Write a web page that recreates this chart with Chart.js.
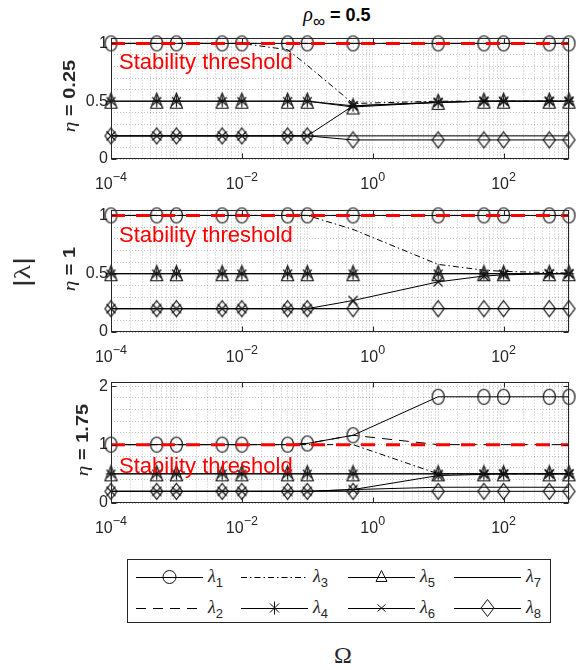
<!DOCTYPE html>
<html><head><meta charset="utf-8">
<script src="https://cdn.jsdelivr.net/npm/chart.js@4.4.1/dist/chart.umd.min.js"></script>
<style>
body{margin:0;background:#fff;width:576px;height:670px;position:relative;overflow:hidden;font-family:"Liberation Sans",Arial,sans-serif;color:#262626;}
canvas.p{position:absolute;left:0;}
.lab{position:absolute;white-space:nowrap;line-height:1;}
#legend{position:absolute;left:127px;top:559px;width:424px;height:64px;border:1px solid #262626;box-sizing:border-box;}
.le{position:absolute;height:20px;}
.le svg{position:absolute;left:0;top:0;}
.le .t{position:absolute;left:72px;top:-1px;font-size:18px;font-family:"Liberation Serif",serif;font-style:italic;color:#262626;}
.le .t sub{font-size:13px;font-style:normal;font-family:"Liberation Sans",Arial,sans-serif;vertical-align:-5px;}
</style></head><body>

<div class="lab" id="title" style="left:337px;top:4px;transform:translateX(-50%);font-size:18px;font-weight:bold;color:#000;">
<span style="font-family:'Liberation Serif',serif;font-style:italic;font-weight:normal;font-size:20px;">ρ</span><sub style="font-size:17px;font-weight:normal;vertical-align:-6px;">∞</sub> = 0.5</div>

<canvas id="c1" class="p" width="576" height="166" style="top:25px"></canvas>
<canvas id="c2" class="p" width="576" height="167" style="top:197px"></canvas>
<canvas id="c3" class="p" width="576" height="166" style="top:369px"></canvas>

<div class="lab" style="left:69px;top:96px;transform:translate(-50%,-50%) rotate(-90deg) scaleX(1.25);font-size:16px;font-weight:bold;"><span style="font-style:italic;font-weight:normal;font-family:'Liberation Serif',serif;font-size:17px;">η</span> = 0.25</div>
<div class="lab" style="left:69px;top:269px;transform:translate(-50%,-50%) rotate(-90deg) scaleX(1.25);font-size:16px;font-weight:bold;"><span style="font-style:italic;font-weight:normal;font-family:'Liberation Serif',serif;font-size:17px;">η</span> = 1</div>
<div class="lab" style="left:82px;top:440px;transform:translate(-50%,-50%) rotate(-90deg) scaleX(1.25);font-size:16px;font-weight:bold;"><span style="font-style:italic;font-weight:normal;font-family:'Liberation Serif',serif;font-size:17px;">η</span> = 1.75</div>
<div class="lab" style="left:22px;top:272px;transform:translate(-50%,-50%) rotate(-90deg) scaleX(1.25);font-size:24px;color:#262626;">|<span style="font-family:'Liberation Serif',serif;">λ</span>|</div>
<div class="lab" style="left:343px;top:655px;transform:translate(-50%,-50%);font-size:24px;font-family:'Liberation Serif',serif;color:#262626;">Ω</div>

<div id="legend"></div>

<script>
// ---------- data ----------
const omega = [1e-4, 5e-4, 1e-3, 5e-3, 1e-2, 5e-2, 1e-1, 5e-1, 10, 50, 100, 500, 1000];
const xMajorExponents = [-4, -2, 0, 2];
const yTicksA = [0, 0.5, 1];
const yTicksB = [0, 1, 2];
const thresholdX = [1e-4, 1e3];
const thresholdY = [1, 1];

// eta = 0.25
const e025_l1 = [1, 1, 1, 1, 1, 1, 1, 1, 1, 1, 1, 1, 1];
const e025_l2 = [1, 1, 1, 1, 1, 1, 1, 1, 1, 1, 1, 1, 1];
const e025_l3 = [1, 1, 1, 1, 1, 0.945, 0.81, 0.48, 0.5, 0.5, 0.5, 0.5, 0.5];
const e025_l4 = [0.5, 0.5, 0.5, 0.5, 0.5, 0.5, 0.5, 0.46, 0.49, 0.5, 0.5, 0.5, 0.5];
const e025_l5 = [0.5, 0.5, 0.5, 0.5, 0.5, 0.5, 0.5, 0.45, 0.49, 0.5, 0.5, 0.5, 0.5];
const e025_l6 = [0.2, 0.2, 0.2, 0.2, 0.2, 0.2, 0.2, 0.46, 0.49, 0.5, 0.5, 0.5, 0.5];
const e025_l7 = [0.2, 0.2, 0.2, 0.2, 0.2, 0.2, 0.2, 0.2, 0.2, 0.2, 0.2, 0.2, 0.2];
const e025_l8 = [0.2, 0.2, 0.2, 0.2, 0.2, 0.2, 0.2, 0.165, 0.165, 0.165, 0.165, 0.165, 0.165];

// eta = 1
const e1_l1 = [1, 1, 1, 1, 1, 1, 1, 1, 1, 1, 1, 1, 1];
const e1_l2 = [1, 1, 1, 1, 1, 1, 1, 1, 1, 1, 1, 1, 1];
const e1_l3 = [1, 1, 1, 1, 1, 1, 1, 0.88, 0.58, 0.53, 0.52, 0.51, 0.505];
const e1_l4 = [0.5, 0.5, 0.5, 0.5, 0.5, 0.5, 0.5, 0.5, 0.5, 0.5, 0.5, 0.5, 0.5];
const e1_l5 = [0.5, 0.5, 0.5, 0.5, 0.5, 0.5, 0.5, 0.5, 0.5, 0.5, 0.5, 0.5, 0.5];
const e1_l6 = [0.2, 0.2, 0.2, 0.2, 0.2, 0.2, 0.2, 0.27, 0.43, 0.48, 0.49, 0.5, 0.5];
const e1_l7 = [0.2, 0.2, 0.2, 0.2, 0.2, 0.2, 0.2, 0.2, 0.2, 0.2, 0.2, 0.2, 0.2];
const e1_l8 = [0.2, 0.2, 0.2, 0.2, 0.2, 0.2, 0.2, 0.2, 0.2, 0.2, 0.2, 0.2, 0.2];

// eta = 1.75
const e175_l1 = [1, 1, 1, 1, 1, 1, 1.02, 1.16, 1.82, 1.82, 1.82, 1.82, 1.82];
const e175_l2 = [1, 1, 1, 1, 1, 1, 1.02, 1.16, 1, 1, 1, 1, 1];
const e175_l3 = [1, 1, 1, 1, 1, 1, 1, 1, 0.5, 0.5, 0.5, 0.5, 0.5];
const e175_l4 = [0.5, 0.5, 0.5, 0.5, 0.5, 0.5, 0.5, 0.5, 0.5, 0.5, 0.5, 0.5, 0.5];
const e175_l5 = [0.5, 0.5, 0.5, 0.5, 0.5, 0.5, 0.5, 0.5, 0.5, 0.5, 0.5, 0.5, 0.5];
const e175_l6 = [0.2, 0.2, 0.2, 0.2, 0.2, 0.2, 0.2, 0.23, 0.47, 0.49, 0.5, 0.5, 0.5];
const e175_l7 = [0.2, 0.2, 0.2, 0.2, 0.2, 0.2, 0.2, 0.23, 0.27, 0.27, 0.27, 0.27, 0.27];
const e175_l8 = [0.2, 0.2, 0.2, 0.2, 0.2, 0.2, 0.2, 0.2, 0.2, 0.2, 0.2, 0.2, 0.2];

const seriesNames = ['λ1', 'λ2', 'λ3', 'λ4', 'λ5', 'λ6', 'λ7', 'λ8'];

// ---------- markers ----------
const INK = '#262626';
const MINK = '#111';
function mk(w, h, draw) {
  const c = document.createElement('canvas');
  c.width = w; c.height = h;
  const g = c.getContext('2d');
  g.strokeStyle = MINK; g.lineWidth = 1.2;
  draw(g, w, h);
  return c;
}
const mCircle = mk(15, 18, (g) => { g.beginPath(); g.ellipse(7.5, 9, 6, 7.5, 0, 0, Math.PI * 2); g.stroke(); });
const mTri = mk(15, 19, (g) => { g.beginPath(); g.moveTo(7.5, 1.5); g.lineTo(13.5, 16.5); g.lineTo(1.5, 16.5); g.closePath(); g.stroke(); });
const mDia = mk(15, 19, (g) => { g.beginPath(); g.moveTo(7.5, 1.5); g.lineTo(13.5, 9.5); g.lineTo(7.5, 17.5); g.lineTo(1.5, 9.5); g.closePath(); g.stroke(); });
const mStar = mk(13, 15, (g) => {
  g.beginPath();
  g.moveTo(6.5, 1.5); g.lineTo(6.5, 13.5);
  g.moveTo(2, 3.5); g.lineTo(11, 11.5);
  g.moveTo(11, 3.5); g.lineTo(2, 11.5);
  g.moveTo(1.5, 7.5); g.lineTo(11.5, 7.5);
  g.stroke();
});
const mX = mk(12, 12, (g) => { g.beginPath(); g.moveTo(1.5, 1.5); g.lineTo(10.5, 10.5); g.moveTo(10.5, 1.5); g.lineTo(1.5, 10.5); g.stroke(); });

const styles = [
  { dash: [], marker: mCircle },
  { dash: [10, 7], marker: null },
  { dash: [6, 3, 1.5, 3], marker: null },
  { dash: [], marker: mStar },
  { dash: [], marker: mTri },
  { dash: [], marker: mX },
  { dash: [], marker: null },
  { dash: [], marker: mDia }
];

// ---------- plugin: box, inward ticks, x labels, annotation text ----------
const framePlugin = {
  id: 'frame',
  afterDatasetsDraw(chart, args, opts) {
    const { ctx, chartArea: a, scales: { x, y } } = chart;
    ctx.save();
    ctx.fillStyle = '#ff0000';
    ctx.font = '22px "Liberation Sans", Arial, sans-serif';
    ctx.textBaseline = 'alphabetic';
    ctx.textAlign = 'left';
    ctx.fillText('Stability threshold', a.left + 8, y.getPixelForValue(opts.textY));
    ctx.restore();
  },
  afterDraw(chart, args, opts) {
    const { ctx, chartArea: a, scales: { x, y } } = chart;
    ctx.save();
    ctx.strokeStyle = INK; ctx.lineWidth = 1;
    const L = Math.round(a.left) + 0.5, R = Math.round(a.right) - 0.5, T = Math.round(a.top) + 0.5, B = Math.round(a.bottom) - 0.5;
    ctx.strokeRect(L, T, R - L, B - T);
    ctx.beginPath();
    xMajorExponents.forEach(e => {
      const px = Math.round(x.getPixelForValue(Math.pow(10, e))) + 0.5;
      ctx.moveTo(px, B); ctx.lineTo(px, B - 5);
      ctx.moveTo(px, T); ctx.lineTo(px, T + 5);
    });
    opts.yTicks.forEach(v => {
      const py = Math.round(y.getPixelForValue(v)) + 0.5;
      ctx.moveTo(L, py); ctx.lineTo(L + 5, py);
      ctx.moveTo(R, py); ctx.lineTo(R - 5, py);
    });
    ctx.stroke();
    // x tick labels 10^e
    ctx.fillStyle = INK;
    ctx.textBaseline = 'middle';
    xMajorExponents.forEach(e => {
      const px = x.getPixelForValue(Math.pow(10, e));
      const base = '10', ex = (e < 0 ? '\u2212' : '') + Math.abs(e);
      ctx.font = '16px "Liberation Sans", Arial, sans-serif';
      const wb = ctx.measureText(base).width;
      ctx.font = '12.5px "Liberation Sans", Arial, sans-serif';
      const we = ctx.measureText(ex).width;
      const x0 = px - (wb + we) / 2;
      ctx.textAlign = 'left';
      ctx.font = '16px "Liberation Sans", Arial, sans-serif';
      ctx.fillText(base, x0, a.bottom + 26);
      ctx.font = '12.5px "Liberation Sans", Arial, sans-serif';
      ctx.fillText(ex, x0 + wb, a.bottom + 19);
    });
    ctx.restore();
  }
};

function buildPanel(id, series, yMax, yTicks, yMinor, textY) {
  const datasets = [{
    label: 'threshold',
    data: thresholdX.map((xv, i) => ({ x: xv, y: thresholdY[i] })),
    borderColor: '#ff0000', borderWidth: 3, borderDash: [14, 11],
    pointRadius: 0, fill: false, order: -1, clip: false
  }];
  series.forEach((s, i) => {
    const st = styles[i];
    datasets.push({
      label: seriesNames[i],
      data: omega.map((xv, j) => ({ x: xv, y: s[j] })),
      borderColor: '#000', borderWidth: 1, borderDash: st.dash,
      pointStyle: st.marker || 'circle',
      pointRadius: st.marker ? 6 : 0,
      pointBorderColor: MINK, pointBackgroundColor: 'rgba(0,0,0,0)',
      fill: false, tension: 0, clip: false, order: i
    });
  });
  const xGrid = [];
  for (let e = -4; e <= 3; e++) {
    for (let m = 1; m <= 9; m++) {
      const v = m * Math.pow(10, e);
      if (v <= 1000 * 1.0001) xGrid.push(v);
    }
  }
  const yGrid = [];
  for (let k = 0; k * yMinor <= yMax + 1e-9; k++) yGrid.push(Math.round(k * yMinor * 1000) / 1000);

  return new Chart(document.getElementById(id), {
    type: 'line',
    data: { datasets },
    options: {
      responsive: false, animation: false,
      layout: { padding: { left: 0, right: 6, top: 8, bottom: 0 } },
      plugins: { legend: { display: false }, tooltip: { enabled: false }, frame: { yTicks, textY } },
      scales: {
        x: {
          type: 'logarithmic', min: 1e-4, max: 1e3,
          afterBuildTicks: (sc) => { sc.ticks = xGrid.map(v => ({ value: v })); },
          afterFit: (sc) => { sc.height = 32; },
          ticks: { autoSkip: false, maxRotation: 0, callback: () => '' , font: { size: 1 } },
          grid: { color: 'rgba(38,38,38,0.28)', lineWidth: 1, drawTicks: false },
          border: { display: false, dash: [1, 2] }
        },
        y: {
          type: 'linear', min: 0, max: yMax,
          afterBuildTicks: (sc) => { sc.ticks = yGrid.map(v => ({ value: v })); },
          afterFit: (sc) => { sc.width = 111; },
          ticks: {
            autoSkip: false, padding: 3, color: INK,
            font: { size: 16, family: '"Liberation Sans", Arial, sans-serif' },
            callback: (v) => yTicks.some(t => Math.abs(t - v) < 1e-6) ? String(v) : ''
          },
          grid: { color: 'rgba(38,38,38,0.28)', lineWidth: 1, drawTicks: false },
          border: { display: false, dash: [1, 2] }
        }
      }
    },
    plugins: [framePlugin]
  });
}

buildPanel('c1', [e025_l1, e025_l2, e025_l3, e025_l4, e025_l5, e025_l6, e025_l7, e025_l8], 1.05, yTicksA, 0.1, 0.775);
buildPanel('c2', [e1_l1, e1_l2, e1_l3, e1_l4, e1_l5, e1_l6, e1_l7, e1_l8], 1.05, yTicksA, 0.1, 0.775);
buildPanel('c3', [e175_l1, e175_l2, e175_l3, e175_l4, e175_l5, e175_l6, e175_l7, e175_l8], 2.08, yTicksB, 0.2, 0.52);

// ---------- legend ----------
const legendOrder = [0, 2, 4, 6, 1, 3, 5, 7];
const colX = [8, 113, 220, 326];
const rowY = [7, 38];
const svgMarker = {
  0: '<ellipse cx="33.5" cy="10" rx="6.5" ry="6.5" fill="none" stroke="#111"/>',
  3: '<path d="M33.5 3.5V16.5M29 5.5L38 14.5M38 5.5L29 14.5" stroke="#111" fill="none"/>',
  4: '<path d="M33.5 3.5L39 14.5H28Z" stroke="#111" fill="none"/>',
  5: '<path d="M29.5 6.5L37.5 13.5M37.5 6.5L29.5 13.5" stroke="#111" fill="none"/>',
  7: '<path d="M33.5 1.5L40 10L33.5 18.5L27 10Z" stroke="#111" fill="none"/>'
};
const lg = document.getElementById('legend');
legendOrder.forEach((si, k) => {
  const col = k % 4, row = Math.floor(k / 4);
  const d = document.createElement('div');
  d.className = 'le';
  d.style.left = colX[col] + 'px';
  d.style.top = rowY[row] + 'px';
  const dash = styles[si].dash.length ? ` stroke-dasharray="${styles[si].dash.join(' ')}"` : '';
  d.innerHTML = `<svg width="68" height="20"><line x1="0" y1="10.5" x2="67" y2="10.5" stroke="#000" stroke-width="1"${dash}/>${svgMarker[si] || ''}</svg>` +
    `<span class="t">λ<sub>${si + 1}</sub></span>`;
  lg.appendChild(d);
});
</script>
</body></html>
